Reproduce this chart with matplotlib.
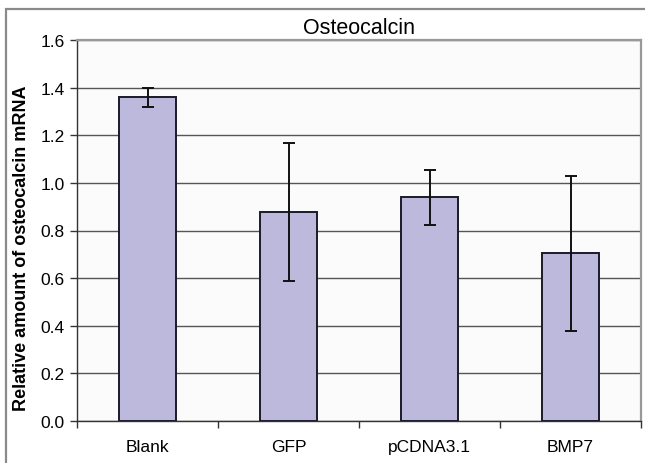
import matplotlib
matplotlib.use("Agg")

import matplotlib.pyplot as plt
import numpy as np

# ------------------------------------------------------------
# DATA
# ------------------------------------------------------------
groups = ["Blank", "GFP", "pCDNA3.1", "BMP7"]
means = [1.36, 0.878, 0.94, 0.705]
errors = [0.04, 0.29, 0.115, 0.325]
y_ticks = [0.0, 0.2, 0.4, 0.6, 0.8, 1.0, 1.2, 1.4, 1.6]

plt.rcParams["font.family"] = ["Liberation Sans", "DejaVu Sans"]

# ------------------------------------------------------------
# FIGURE
# ------------------------------------------------------------
fig = plt.figure(figsize=(6.45, 4.64), dpi=100)
fig.patch.set_facecolor("white")

# outer chart frame (excel style)
frame = plt.Rectangle((6 / 645, -0.05), 1.2, 1 - 10 / 464 + 0.05,
                      transform=fig.transFigure, fill=False,
                      edgecolor="#8a8a8a", linewidth=1.6)
fig.patches.append(frame)

ax = fig.add_axes([77 / 645, 1 - 422 / 464, 564 / 645, 381 / 464])
ax.set_facecolor("#fafbfa")

x = np.arange(len(groups))
ax.bar(x, means, width=0.4, color="#bcb9dd", edgecolor="#1a1a2a",
       linewidth=1.4, zorder=3)
ax.errorbar(x, means, yerr=errors, fmt="none", ecolor="#111111",
            elinewidth=1.4, capsize=4, capthick=1.4, zorder=4)

ax.set_xlim(-0.5, len(groups) - 0.5)
ax.set_ylim(0, 1.6)
ax.set_yticks(y_ticks)
ax.set_yticklabels([f"{v:.1f}" for v in y_ticks], fontsize=12.5)
ax.yaxis.grid(True, color="#555555", linewidth=1.0, zorder=0)
ax.set_axisbelow(True)

# category labels, with tick marks on the boundaries
ax.set_xticks(x)
ax.set_xticklabels(groups, fontsize=12.5)
ax.tick_params(axis="x", which="major", length=0, pad=13)
ax.set_xticks(np.arange(-0.5, len(groups)), minor=True)
ax.tick_params(axis="x", which="minor", length=5, width=1, color="#333333")
ax.tick_params(axis="y", length=5, width=1, color="#333333", pad=4)

for side in ["left", "bottom"]:
    ax.spines[side].set_color("#333333")
    ax.spines[side].set_linewidth(1.0)
for side in ["top", "right"]:
    ax.spines[side].set_color("#999999")
    ax.spines[side].set_linewidth(1.6)

ax.set_title("Osteocalcin", fontsize=15.5, pad=5)
ax.set_ylabel("Relative amount of osteocalcin mRNA", fontsize=13,
              fontweight="bold")
ax.yaxis.set_label_coords(-0.083, 0.457)

fig.savefig("out.png", dpi=100)
